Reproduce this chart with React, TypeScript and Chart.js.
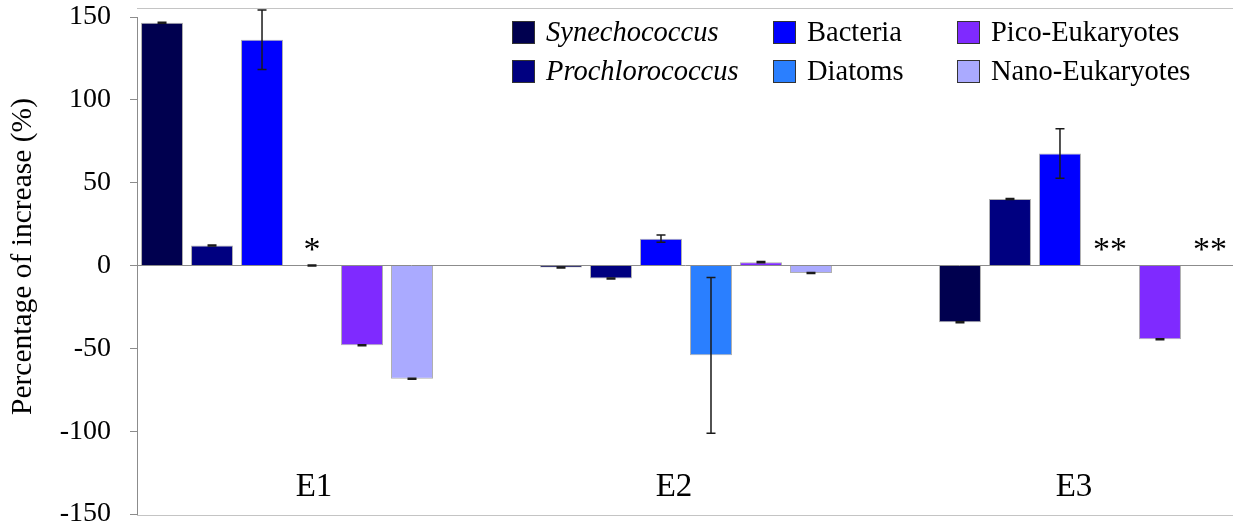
import React, { useEffect, useRef } from "react";
import { Chart, registerables } from "chart.js";

Chart.register(...registerables);

// ---------- data ----------
const groups = ["E1", "E2", "E3"];
const groupIndex = [0, 1, 2];

const seriesNames = [
  "Synechococcus",
  "Prochlorococcus",
  "Bacteria",
  "Diatoms",
  "Pico-Eukaryotes",
  "Nano-Eukaryotes",
];
const seriesItalic = [true, true, false, false, false, false];
const seriesColors = ["#00004f", "#000080", "#0000ff", "#2a7fff", "#7f2aff", "#aaaaff"];

const synechococcus = [146.5, -1.2, -34.2];
const prochlorococcus = [12.0, -7.9, 40.2];
const bacteria = [136.3, 16.2, 67.6];
const diatoms = [0, -54.2, null];
const picoEukaryotes = [-48.2, 2.0, -44.5];
const nanoEukaryotes = [-68.4, -4.5, null];

const synechococcusErr = [0.3, 0.3, 0.3];
const prochlorococcusErr = [0.3, 0.3, 0.3];
const bacteriaErr = [18, 2.2, 15];
const diatomsErr = [0.3, 47, null];
const picoEukaryotesErr = [0.3, 0.4, 0.3];
const nanoEukaryotesErr = [0.3, 0.3, null];

const emptyNotes = ["", "", ""];
const diatomsNotes = ["*", "", "**"];
const nanoEukaryotesNotes = ["", "", "**"];

const yTicksMin = -150;
const yTicksMax = 150;
const yTicksStep = 50;
const yTitle = "Percentage of increase (%)";

const seriesValues = [synechococcus, prochlorococcus, bacteria, diatoms, picoEukaryotes, nanoEukaryotes];
const seriesErrors = [synechococcusErr, prochlorococcusErr, bacteriaErr, diatomsErr, picoEukaryotesErr, nanoEukaryotesErr];
const seriesNotes = [emptyNotes, emptyNotes, emptyNotes, diatomsNotes, emptyNotes, nanoEukaryotesNotes];

// ---------- style ----------
const SERIF = '"Liberation Serif", "Times New Roman", serif';
const noteLevel = 3.5;
const groupLabelLevel = -139;
const groupLabelShiftPx = [27, -12, -11];

const errorBarsPlugin = {
  id: "errorBars",
  afterDatasetsDraw(chart: any) {
    const ctx = chart.ctx;
    const y = chart.scales.y;
    chart.data.datasets.forEach((ds: any, di: number) => {
      const meta = chart.getDatasetMeta(di);
      meta.data.forEach((bar: any, i: number) => {
        const v = ds.data[i].y;
        const e = ds.errors[i];
        if (v == null || e == null) return;
        const top = y.getPixelForValue(v + e);
        const bot = y.getPixelForValue(v - e);
        ctx.save();
        ctx.strokeStyle = "#1a1a1a";
        ctx.lineWidth = 1.5;
        ctx.beginPath();
        ctx.moveTo(bar.x, top);
        ctx.lineTo(bar.x, bot);
        ctx.moveTo(bar.x - 4.5, top);
        ctx.lineTo(bar.x + 4.5, top);
        ctx.moveTo(bar.x - 4.5, bot);
        ctx.lineTo(bar.x + 4.5, bot);
        ctx.stroke();
        ctx.restore();
      });
    });
  },
};

const annotationsPlugin = {
  id: "annotations",
  afterDraw(chart: any) {
    const ctx = chart.ctx;
    const x = chart.scales.x;
    const y = chart.scales.y;
    const area = chart.chartArea;
    ctx.save();
    // frame lines
    ctx.strokeStyle = "#c4c4c4";
    ctx.lineWidth = 1;
    ctx.beginPath();
    ctx.moveTo(area.left, area.top - 8.5);
    ctx.lineTo(area.right, area.top - 8.5);
    ctx.moveTo(area.left, area.bottom + 1.5);
    ctx.lineTo(area.right, area.bottom + 1.5);
    ctx.stroke();

    // significance notes
    ctx.fillStyle = "#000";
    ctx.font = `34px ${SERIF}`;
    ctx.textAlign = "center";
    ctx.textBaseline = "alphabetic";
    chart.data.datasets.forEach((ds: any, di: number) => {
      const meta = chart.getDatasetMeta(di);
      meta.data.forEach((bar: any, i: number) => {
        const t = ds.notes[i];
        if (t) ctx.fillText(t, bar.x, y.getPixelForValue(noteLevel));
      });
    });

    // group labels
    ctx.font = `33px ${SERIF}`;
    groups.forEach((g, i) => {
      ctx.fillText(
        g,
        x.getPixelForValue(groupIndex[i]) + groupLabelShiftPx[i],
        y.getPixelForValue(groupLabelLevel)
      );
    });

    // y title
    ctx.font = `29.5px ${SERIF}`;
    ctx.translate(31, (area.top + area.bottom) / 2 - 9);
    ctx.rotate(-Math.PI / 2);
    ctx.textAlign = "center";
    ctx.fillText(yTitle, 0, 0);
    ctx.restore();
  },
};

export default function App() {
  const ref = useRef<HTMLCanvasElement>(null);

  useEffect(() => {
    const canvas = ref.current;
    if (!canvas) return;
    const chart = new Chart(canvas, {
      type: "bar",
      data: {
        datasets: seriesNames.map((name, si) => ({
          label: name,
          data: groupIndex.map((gi, i) => ({ x: gi, y: seriesValues[si][i] })),
          errors: seriesErrors[si],
          notes: seriesNotes[si],
          backgroundColor: seriesColors[si],
          borderColor: "rgba(110,110,110,0.55)",
          borderWidth: 1,
          categoryPercentage: 300 / 399,
          barPercentage: 0.84,
        })) as any,
      },
      options: {
        animation: false,
        responsive: false,
        devicePixelRatio: 1,
        layout: { padding: { top: 17, bottom: 15, left: 0, right: 0 } },
        plugins: {
          legend: { display: false },
          tooltip: { enabled: false },
        },
        scales: {
          x: {
            type: "linear",
            display: false,
            offset: false,
            grace: 0,
            min: -0.376,
            max: 2.371,
            ticks: { stepSize: 1, includeBounds: false },
          },
          y: {
            min: yTicksMin,
            max: yTicksMax,
            afterFit: (scale: any) => {
              scale.width = 137;
              scale.paddingTop = 0;
              scale.paddingBottom = 0;
            },
            ticks: {
              stepSize: yTicksStep,
              color: "#000",
              padding: 19,
              font: { family: SERIF, size: 28, lineHeight: 1 },
            },
            grid: {
              color: (c: any) => (c.tick && c.tick.value === 0 ? "#8c8c8c" : "rgba(0,0,0,0)"),
              tickColor: "#8c8c8c",
              tickLength: 7,
              lineWidth: 1,
            },
            border: { display: true, color: "#8c8c8c", width: 1 },
          },
        },
      },
      plugins: [errorBarsPlugin, annotationsPlugin],
    } as any);
    return () => chart.destroy();
  }, []);

  const colLeft = [512, 773, 957];
  const rowCenter = [32, 71];

  return (
    <div style={{ position: "absolute", left: 0, top: 0, width: 1233, height: 529, background: "#fff" }}>
      <canvas ref={ref} width={1233} height={529} style={{ display: "block" }} />
      {seriesNames.map((name, i) => {
        const col = Math.floor(i / 2);
        const row = i % 2;
        return (
          <div
            key={name}
            style={{
              position: "absolute",
              left: colLeft[col],
              top: rowCenter[row] - 16,
              height: 32,
              display: "flex",
              alignItems: "center",
              whiteSpace: "nowrap",
            }}
          >
            <span
              style={{
                display: "inline-block",
                width: 21,
                height: 21,
                background: seriesColors[i],
                border: "1px solid #333",
                marginRight: 11,
              }}
            />
            <span
              style={{
                fontFamily: SERIF,
                fontSize: 28.5,
                fontStyle: seriesItalic[i] ? "italic" : "normal",
                color: "#000",
                lineHeight: "32px",
              }}
            >
              {name}
            </span>
          </div>
        );
      })}
    </div>
  );
}
